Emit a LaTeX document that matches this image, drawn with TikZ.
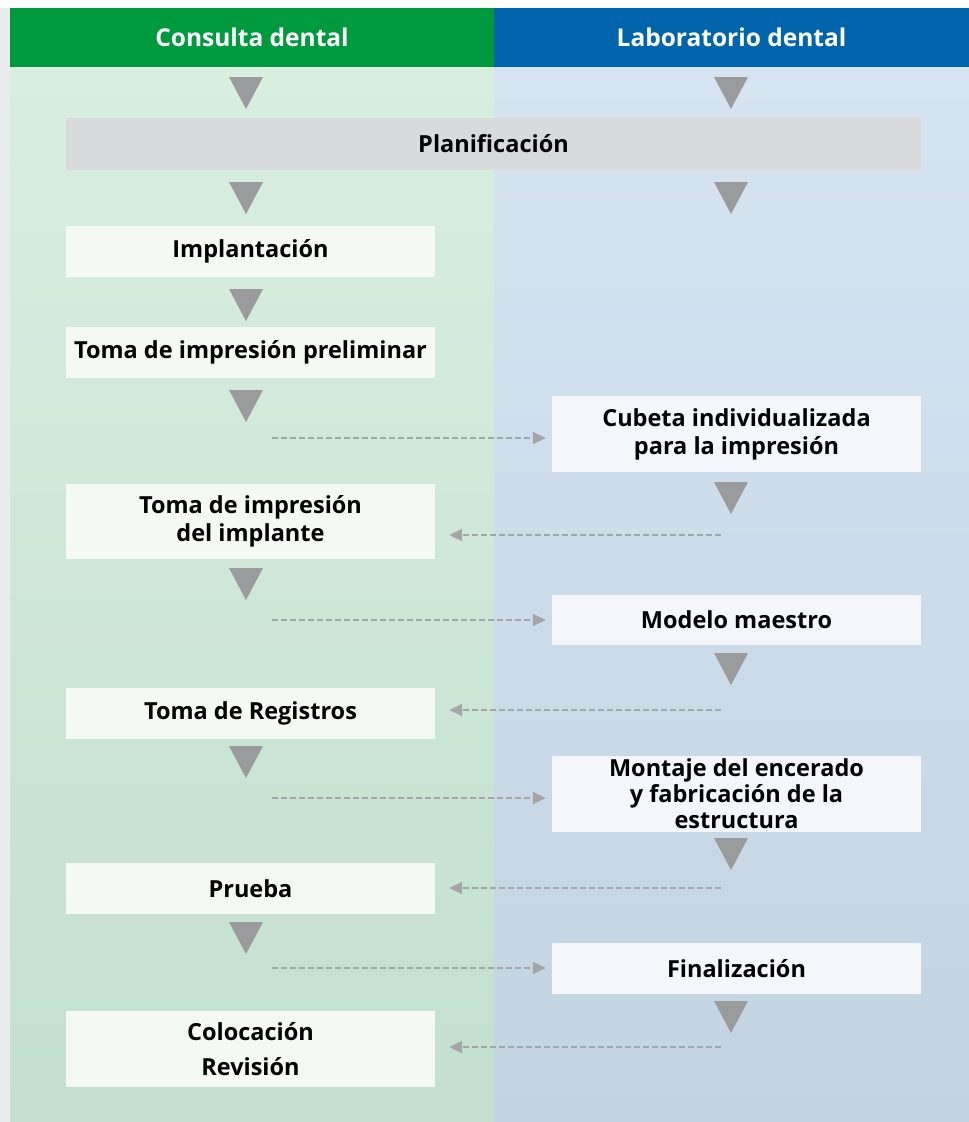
\documentclass[tikz,border=0pt]{standalone}
\usepackage{fontspec}
\setmainfont{Open Sans}
\usetikzlibrary{arrows.meta}
\tikzset{>={Triangle[length=13pt,width=12pt]}}
\definecolor{consgreen}{HTML}{009A3E}
\definecolor{labblue}{HTML}{0064AD}
\definecolor{greentop}{HTML}{D8EFE0}
\definecolor{greenbot}{HTML}{C3DFCF}
\definecolor{bluetop}{HTML}{D6E4F1}
\definecolor{bluebot}{HTML}{C2D3E2}
\definecolor{boxgreen}{HTML}{F4F9F3}
\definecolor{boxblue}{HTML}{F4F6FB}
\definecolor{plangray}{HTML}{D9DADB}
\definecolor{trigray}{HTML}{9A9B9D}
\definecolor{dashgray}{HTML}{A4A5A7}
\definecolor{sidegray}{HTML}{E9ECEF}

\begin{document}
\begin{tikzpicture}[x=1pt,y=-1pt,
  stepbox/.style={fill=boxgreen, minimum width=369pt, minimum height=51pt,
    inner sep=0pt, align=center, font=\fontsize{23.5}{28}\selectfont\bfseries},
  labbox/.style={stepbox, fill=boxblue},
  headbox/.style={minimum height=59pt, inner sep=0pt, text=white,
    font=\fontsize{24.5}{28}\selectfont\bfseries},
  flow/.style={->, draw=dashgray, line width=1.8pt, dash pattern=on 6pt off 3pt},
  tri/.style={fill=trigray}]
\useasboundingbox (0,0) rectangle (969,1122);
\fill[sidegray] (0,8) rectangle (10,1122);

% columns
\shade[top color=greentop, bottom color=greenbot] (10,67) rectangle (494,1122);
\shade[top color=bluetop, bottom color=bluebot] (494,67) rectangle (969,1122);
\node[headbox, fill=consgreen, minimum width=484pt] (hcons) at (252,37.5) {Consulta dental};
\node[headbox, fill=labblue, minimum width=475pt] (hlab) at (731.5,37.5) {Laboratorio dental};

\node[stepbox, fill=plangray, minimum width=855pt, minimum height=52pt] (plan) at (493.5,144) {Planificación};

% consulta
\node[stepbox] (impl) at (250.5,251.5) {Implantación};
\node[stepbox] (prelim) at (250.5,352.5) {Toma de impresión preliminar};
\node[stepbox, minimum height=75pt] (implante) at (250.5,521.5) {Toma de impresión\\del implante};
\node[stepbox] (registros) at (250.5,713.5) {Toma de Registros};
\node[stepbox] (prueba) at (250.5,888.5) {Prueba};
\node[stepbox, minimum height=76pt] (coloc) at (250.5,1049) {Colocación\\[7pt]Revisión};

% laboratorio
\node[labbox, minimum height=76pt] (cubeta) at (736.5,434) {Cubeta individualizada\\para la impresión};
\node[labbox, minimum height=50pt] (modelo) at (736.5,620) {Modelo maestro};
\node[labbox, minimum height=76pt, font=\fontsize{23.5}{26}\selectfont\bfseries] (montaje) at (736.5,794) {Montaje del encerado\\y fabricación de la\\estructura};
\node[labbox] (final) at (736.5,968.5) {Finalización};

% triangles
\foreach \x/\y in {246/77, 246/182, 246/289, 246/390, 246/568, 246/746, 246/922,
  731/77, 731/182, 731/482, 731/653, 731/838, 731/1001}
  \fill[tri] (\x-17,\y) -- (\x+17,\y) -- (\x,\y+32) -- cycle;

% dashed links
\foreach \y/\n in {438/cubeta, 620/modelo, 798/montaje, 968/final} {
  \coordinate (s\n) at (272,\y);
  \draw[flow, shorten >=6pt] (s\n) -- (s\n -| \n.west);
}
\foreach \y/\n in {535/implante, 710/registros, 888/prueba, 1047/coloc} {
  \coordinate (r\n) at (721,\y);
  \draw[flow, shorten >=14pt] (r\n) -- (r\n -| \n.east);
}
\end{tikzpicture}
\end{document}
